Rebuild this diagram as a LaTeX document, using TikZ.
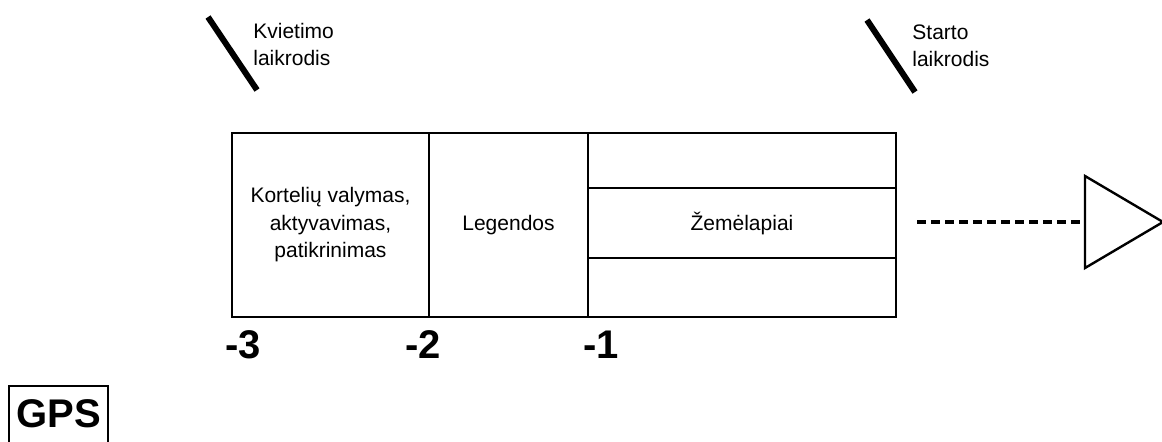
\documentclass[tikz,border=0pt]{standalone}
\usepackage{fontspec}
\setmainfont{Liberation Sans}
\usepackage{tikz}
\usetikzlibrary{positioning,calc}

\begin{document}
\begin{tikzpicture}[x=0.5pt, y=-0.5pt]
  % styles
  \tikzstyle{cell} = [rectangle, draw, line width=1.3pt, outer sep=0pt, inner sep=0pt, minimum height=92pt, align=center, font=\fontsize{10.5}{13.75}\selectfont]
  \tikzstyle{tick} = [font=\fontsize{20}{22}\selectfont\bfseries]
  \tikzstyle{clock} = [anchor=west, align=left, inner sep=0pt, font=\fontsize{10.5}{13.5}\selectfont]
  \tikzstyle{slash} = [line width=3pt]
  \tikzstyle{leader} = [line width=1.6pt, dash pattern=on 4.5pt off 2.5pt]

  \useasboundingbox (0,0) rectangle (1162,441);

  % vertices
  \node[cell, minimum width=98.5pt, anchor=north west] (cards) at (232,133) {Kortelių valymas,\\aktyvavimas,\\patikrinimas};
  \node[cell, minimum width=79.5pt, right=0pt of cards] (legends) {Legendos};
  \node[cell, minimum width=154pt, right=0pt of legends] (maps) {};
  \node[cell, minimum width=154pt, minimum height=35pt, yshift=1pt] (mapsmid) at (maps) {Žemėlapiai};

  % time marks
  \node[tick] (m3) at (243,345) {-3};
  \node[tick] (m2) at (423,345) {-2};
  \node[tick] (m1) at (601,345) {-1};

  % clocks
  \node[clock] (invite) at (253,44) {Kvietimo\\laikrodis};
  \node[clock] (start) at (912,46) {Starto\\laikrodis};
  \draw[slash] (208,17) -- (257,90);
  \draw[slash] (867,20) -- (915,92);

  % start flag
  \coordinate (lead) at (917,222);
  \coordinate (flag) at (1085,222);
  \draw[leader] (lead) -- (flag);
  \draw[line width=1.2pt] (flag) -- ++(0,-46) -- ++(78,46) -- ++(-78,46) -- cycle;

  % gps
  \node[draw, line width=1pt, anchor=north west, minimum width=49.5pt, inner xsep=0pt, inner ysep=3pt, text height=17.5pt, text depth=15pt, font=\fontsize{20}{22}\selectfont\bfseries] (gps) at (8,385) {GPS};
\end{tikzpicture}
\end{document}
